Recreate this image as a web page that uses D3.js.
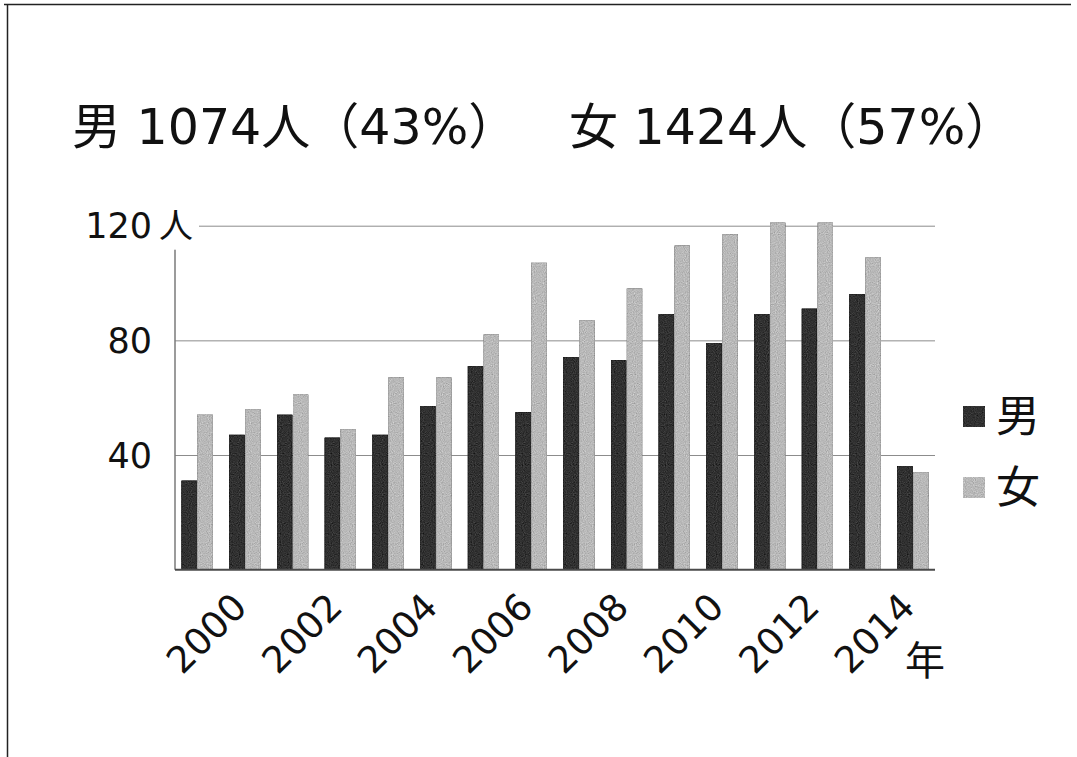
<!DOCTYPE html>
<html>
<head>
<meta charset="utf-8">
<script src="https://cdn.jsdelivr.net/npm/d3@7/dist/d3.min.js"></script>
<style>
  html, body { margin: 0; padding: 0; background: #fff; }
  svg { display: block; }
  text { fill: #111; }
</style>
</head>
<body>
<svg id="chart" width="1077" height="757"></svg>
<script>
// Annual counts by sex, 2000–2015
const years = ["2000","2001","2002","2003","2004","2005","2006","2007",
               "2008","2009","2010","2011","2012","2013","2014","2015"];
const male   = [31, 47, 54, 46, 47, 57, 71, 55, 74, 73, 89, 79, 89, 91, 96, 36];
const female = [54, 56, 61, 49, 67, 67, 82, 107, 87, 98, 113, 117, 121, 121, 109, 34];
const seriesNames = ["男", "女"];
const yTicks = [40, 80, 120];
const xTickLabels = ["2000","2002","2004","2006","2008","2010","2012","2014"];
const titleParts = ["男 1074人（43%）", "女 1424人（57%）"];
const yUnit = "人";
const xUnit = "年";

const latin = "'DejaVu Sans', 'Noto Sans CJK JP', sans-serif";
const cjk = "'Noto Sans CJK JP', sans-serif";

const svg = d3.select("#chart");

// printed-screen grain for the bar fills
const defs = svg.append("defs");
const grain = defs.append("filter").attr("id", "grain")
  .attr("x", 0).attr("y", 0).attr("width", 1).attr("height", 1)
  .attr("color-interpolation-filters", "sRGB");
grain.append("feTurbulence").attr("type", "fractalNoise")
  .attr("baseFrequency", 0.9).attr("numOctaves", 1).attr("seed", 7).attr("result", "noise");
grain.append("feColorMatrix").attr("in", "noise").attr("type", "matrix")
  .attr("values", "0.33 0.33 0.33 0 0  0.33 0.33 0.33 0 0  0.33 0.33 0.33 0 0  0 0 0 0 1")
  .attr("result", "gray");
grain.append("feComposite").attr("in", "SourceGraphic").attr("in2", "gray")
  .attr("operator", "arithmetic").attr("k1", 0).attr("k2", 1).attr("k3", 0.55).attr("k4", -0.27)
  .attr("result", "mix");
grain.append("feComposite").attr("in", "mix").attr("in2", "SourceGraphic").attr("operator", "in");

// frame lines (top and left)
svg.append("line").attr("x1", 4).attr("x2", 1071).attr("y1", 4.5).attr("y2", 4.5)
  .attr("stroke", "#222").attr("stroke-width", 1.5);
svg.append("line").attr("x1", 7.5).attr("x2", 7.5).attr("y1", 4).attr("y2", 757)
  .attr("stroke", "#222").attr("stroke-width", 1.5);

const plot = { left: 175, right: 935, top: 225.7, bottom: 569.65 };

const x0 = d3.scaleBand().domain(years)
  .range([plot.left, plot.right]).paddingInner(0.35).paddingOuter(0.14);
const x1 = d3.scaleBand().domain(seriesNames)
  .range([0, x0.bandwidth()]).paddingInner(0.05);
const y = d3.scaleLinear().domain([0, 120]).range([plot.bottom, plot.top]);

// gridlines
svg.append("g")
  .attr("transform", `translate(${plot.left},0)`)
  .call(d3.axisLeft(y).tickValues(yTicks).tickSize(-(plot.right - plot.left)).tickFormat(""))
  .call(g => g.select(".domain").remove())
  .call(g => g.selectAll(".tick line").attr("stroke", "#8c8c8c").attr("stroke-width", 1));

// y axis line
svg.append("line")
  .attr("x1", plot.left).attr("x2", plot.left)
  .attr("y1", y(120)).attr("y2", plot.bottom)
  .attr("stroke", "#7a7a7a").attr("stroke-width", 1.5);

// bars
const rows = years.map((yr, i) => ({ year: yr, values: [male[i], female[i]] }));
const colors = ["#303030", "#b8b8b8"];
const strokes = ["#111", "#a8a8a8"];
svg.append("g").selectAll("g").data(rows).join("g")
  .attr("transform", d => `translate(${x0(d.year)},0)`)
  .selectAll("rect")
  .data(d => d.values.map((v, k) => ({ k, v })))
  .join("rect")
  .attr("x", d => x1(seriesNames[d.k]))
  .attr("width", x1.bandwidth())
  .attr("y", d => y(d.v))
  .attr("height", d => y(0) - y(d.v))
  .attr("fill", d => colors[d.k])
  .attr("stroke", d => strokes[d.k])
  .attr("stroke-width", 0.8)
  .attr("filter", "url(#grain)");

// baseline
svg.append("line")
  .attr("x1", plot.left).attr("x2", plot.right)
  .attr("y1", plot.bottom).attr("y2", plot.bottom)
  .attr("stroke", "#4a4a4a").attr("stroke-width", 2);

// y tick labels; the top one carries the unit on a white backing
const yl = svg.append("g");
yTicks.forEach(t => {
  if (t === 120) {
    yl.append("rect").attr("x", 84).attr("y", y(t) - 24).attr("width", 115).attr("height", 48)
      .attr("fill", "#fff");
  }
  yl.append("text")
    .attr("x", 152).attr("y", y(t))
    .attr("dy", "0.36em")
    .attr("text-anchor", "end")
    .style("font-family", latin).style("font-size", "35px")
    .text(t);
  if (t === 120) {
    yl.append("text")
      .attr("x", 159).attr("y", y(t))
      .attr("dy", "0.36em")
      .style("font-family", cjk).style("font-size", "34px")
      .text(yUnit);
  }
});

// x tick labels, rotated
xTickLabels.forEach(lbl => {
  const cx = x0(lbl) + x0.bandwidth() / 2 + 9;
  svg.append("text")
    .attr("transform", `translate(${cx},633) rotate(-45)`)
    .attr("text-anchor", "middle")
    .attr("dy", "0.36em")
    .style("font-family", latin).style("font-size", "37px")
    .text(lbl);
});
svg.append("text")
  .attr("x", 925).attr("y", 661).attr("dy", "0.36em")
  .attr("text-anchor", "middle")
  .style("font-family", cjk).style("font-size", "40px")
  .text(xUnit);

// title
svg.append("text").attr("x", 72).attr("y", 144)
  .style("font-family", latin).style("font-size", "49px")
  .text(titleParts[0]);
svg.append("text").attr("x", 569).attr("y", 144)
  .style("font-family", latin).style("font-size", "49px")
  .text(titleParts[1]);

// legend
const legend = svg.append("g");
seriesNames.forEach((name, k) => {
  const cy = 416 + k * 71;
  legend.append("rect").attr("x", 963).attr("y", cy - 10).attr("width", 22).attr("height", 21)
    .attr("fill", colors[k]).attr("filter", "url(#grain)");
  legend.append("text").attr("x", 996).attr("y", cy).attr("dy", "0.36em")
    .style("font-family", cjk).style("font-size", "44px")
    .text(name);
});
</script>
</body>
</html>
